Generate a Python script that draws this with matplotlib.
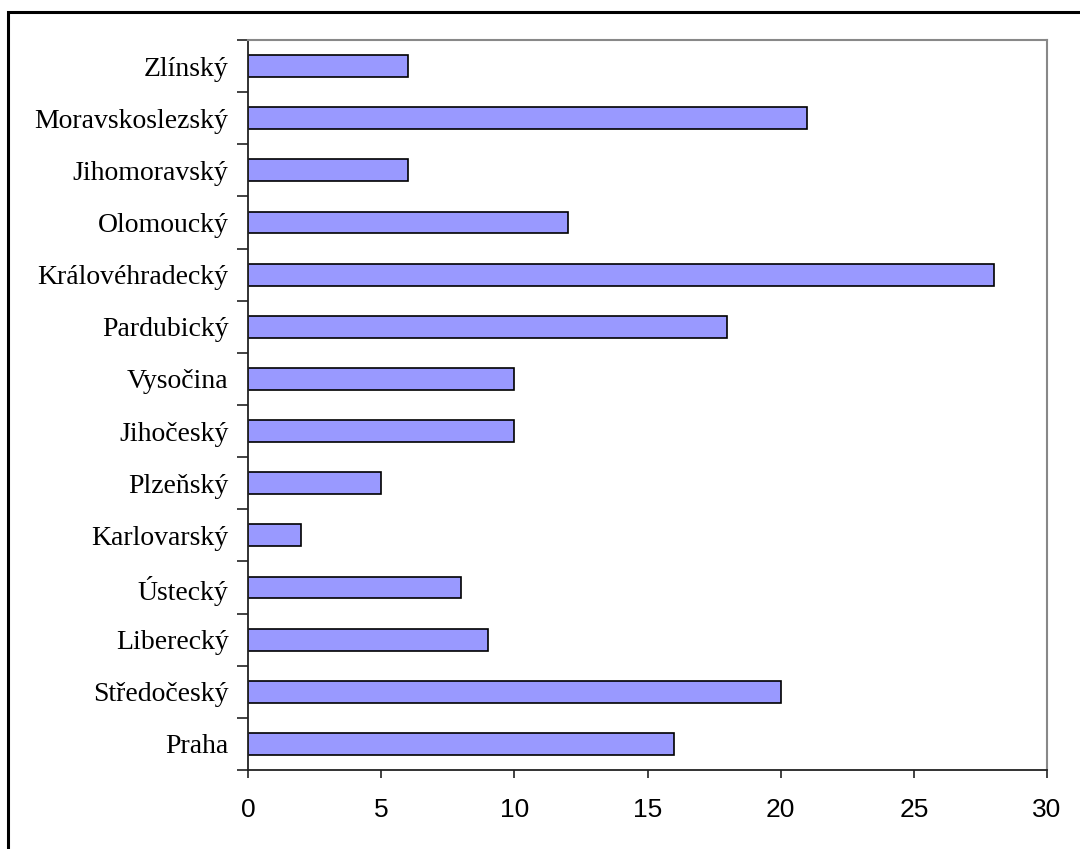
import matplotlib.pyplot as plt
import matplotlib.patches as mpatches
import numpy as np

# data (bottom to top, as shown)
regions = ["Praha", "Středočeský", "Liberecký", "Ústecký", "Karlovarský", "Plzeňský",
           "Jihočeský", "Vysočina", "Pardubický", "Královéhradecký", "Olomoucký",
           "Jihomoravský", "Moravskoslezský", "Zlínský"]
values = [16, 20, 9, 8, 2, 5, 10, 10, 18, 28, 12, 6, 21, 6]
x_ticks = [0, 5, 10, 15, 20, 25, 30]

fig = plt.figure(figsize=(10.8, 8.49), dpi=100)
ax = fig.add_axes([248 / 1080, 1 - 770 / 849, (1047 - 248) / 1080, (770 - 40) / 849])

y = np.arange(len(regions))
ax.barh(y, values, height=0.42, color="#9999FF", edgecolor="black", linewidth=1.2)

ax.set_xlim(0, 30)
ax.set_ylim(-0.5, len(regions) - 0.5)

# x axis
ax.set_xticks(x_ticks)
ax.set_xticklabels([str(t) for t in x_ticks], fontsize=19, family="Liberation Sans")
ax.tick_params(axis="x", direction="out", length=6, width=1.2, pad=14,
               color="#222222", labelcolor="black")

# y axis: labels centred on bars, ticks between categories
ax.set_yticks(y)
ax.set_yticklabels(regions, fontsize=20, family="Liberation Serif")
ax.set_yticks(np.arange(-0.5, len(regions), 1), minor=True)
ax.tick_params(axis="y", which="major", length=0, pad=14)
ax.tick_params(axis="y", which="minor", direction="out", length=8, width=1.2, colors="#222222")

ax.spines["left"].set_color("#222222")
ax.spines["bottom"].set_color("#222222")
ax.spines["left"].set_linewidth(1.3)
ax.spines["bottom"].set_linewidth(1.3)
ax.spines["top"].set_color("#888888")
ax.spines["right"].set_color("#888888")
ax.spines["top"].set_linewidth(1.5)
ax.spines["right"].set_linewidth(1.5)

# outer frame (runs off the right and bottom edge)
frame = mpatches.Rectangle((8 / 1080, -0.05), 1.1, 1 - 12 / 849 + 0.05,
                           transform=fig.transFigure, fill=False,
                           edgecolor="black", linewidth=2.2)
fig.patches.append(frame)

plt.savefig("out.png", dpi=100)
